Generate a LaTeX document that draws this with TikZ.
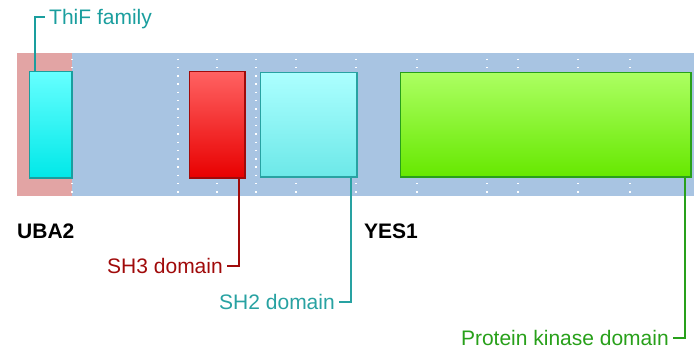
\documentclass[tikz,border=0pt]{standalone}
\usepackage{fontspec}
\setmainfont{Liberation Sans}
\usetikzlibrary{calc}
\definecolor{trackblue}{RGB}{168,196,226}
\definecolor{trackpink}{RGB}{226,164,164}
\definecolor{thifline}{RGB}{26,158,158}
\definecolor{shthreeline}{RGB}{160,10,10}
\definecolor{shtwoline}{RGB}{40,162,162}
\definecolor{kinline}{RGB}{40,160,26}
\begin{document}
\begin{tikzpicture}[x=1pt,y=-1pt,
  every node/.style={font=\fontsize{21}{24}\selectfont},
  dom/.style={draw,line width=1.6pt,anchor=north west,inner sep=0pt},
  lbl/.style={inner xsep=4pt,inner ysep=0pt,text height=15pt,text depth=0pt},
  gene/.style={lbl,inner xsep=0pt,font=\fontsize{21}{24}\selectfont\bfseries},
  ld/.style={line width=1.8pt}]
\useasboundingbox (0,0) rectangle (694,349);
% track
\fill[trackblue] (17,53) rectangle (694,196);
\fill[trackpink] (17,53) rectangle (72,196);
\foreach \x in {72,178,217,256,296,356,417,487,518,578,630}
  \draw[white,line width=1.4pt,dash pattern=on 1.4pt off 6.9pt] (\x,58.5) -- (\x,195);
% domains
\node[dom,draw=thifline,top color={rgb,255:red,102;green,255;blue,255},bottom color={rgb,255:red,0;green,232;blue,232},minimum width=42.4pt,minimum height=106.4pt] (thif) at (28.8,70.8) {};
\node[dom,draw=shthreeline,top color={rgb,255:red,255;green,98;blue,98},bottom color={rgb,255:red,232;green,0;blue,0},minimum width=55.4pt,minimum height=106.4pt] (sh3) at (188.8,70.8) {};
\node[dom,draw=shtwoline,top color={rgb,255:red,172;green,255;blue,255},bottom color={rgb,255:red,108;green,232;blue,232},minimum width=96.4pt,minimum height=104.4pt] (sh2) at (259.8,71.8) {};
\node[dom,draw=kinline,top color={rgb,255:red,172;green,255;blue,98},bottom color={rgb,255:red,102;green,232;blue,0},minimum width=290.4pt,minimum height=104.4pt] (kin) at (399.8,71.8) {};
% genes
\node[gene,anchor=west] (uba) at (17,231) {UBA2};
\node[gene,anchor=west] (yes) at (364,231) {YES1};
% labels
\node[lbl,anchor=west,text=thifline] (lthif) at (45,17) {ThiF family};
\node[lbl,anchor=east,text=shthreeline] (lsh3) at (227,266) {SH3 domain};
\node[lbl,anchor=east,text=shtwoline] (lsh2) at (339,302) {SH2 domain};
\node[lbl,anchor=east,text=kinline] (lkin) at (673,338) {Protein kinase domain};
\draw[ld,thifline] ($(thif.north west)+(6.2,0)$) |- (lthif.west);
\draw[ld,shthreeline] ($(sh3.south east)+(-7.2,0)$) |- (lsh3.east);
\draw[ld,shtwoline] ($(sh2.south east)+(-7.2,0)$) |- (lsh2.east);
\draw[ld,kinline] ($(kin.south east)+(-7.2,0)$) |- (lkin.east);
\end{tikzpicture}
\end{document}
